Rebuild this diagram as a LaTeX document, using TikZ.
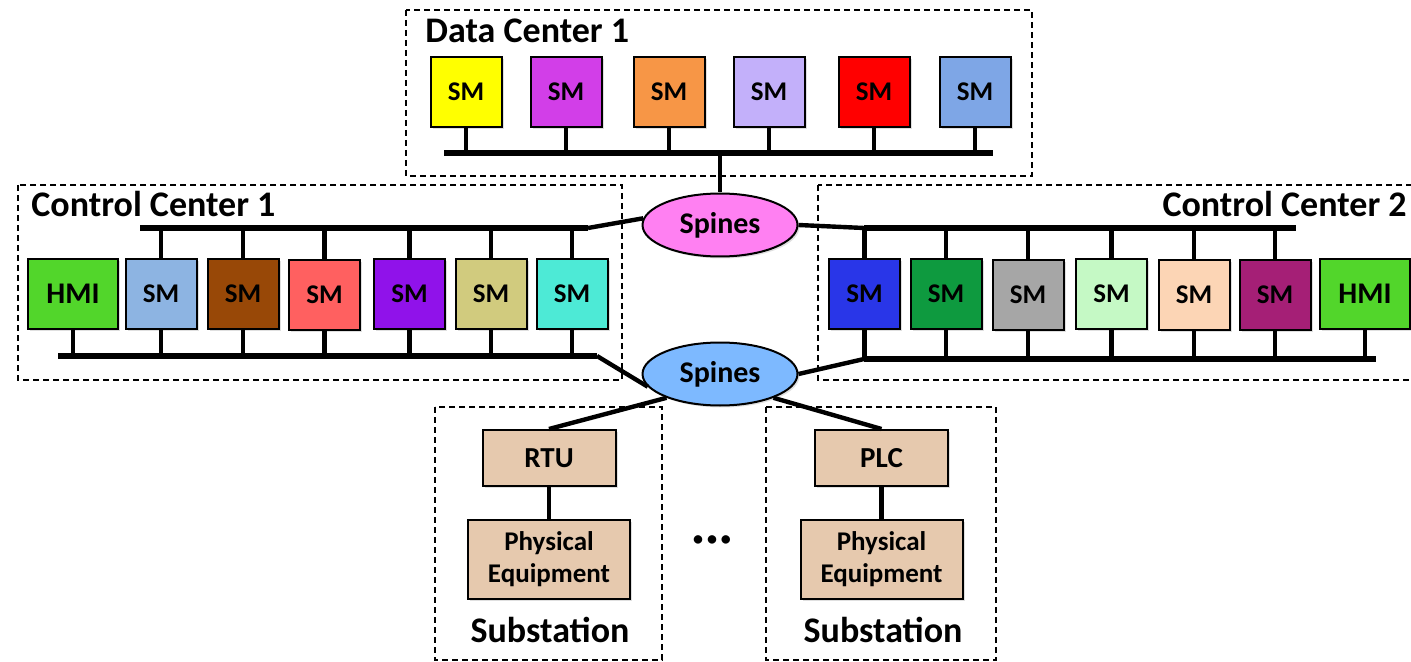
\documentclass[tikz,border=0pt]{standalone}
\usepackage{fontspec}
\setmainfont{Carlito}
\usetikzlibrary{shapes.geometric,shadows}
\definecolor{dcY}{HTML}{FFFF00}
\definecolor{dcM}{HTML}{D23EE8}
\definecolor{dcO}{HTML}{F79646}
\definecolor{dcL}{HTML}{C3B0FA}
\definecolor{dcR}{HTML}{FF0000}
\definecolor{dcB}{HTML}{7EA6E6}
\definecolor{hmiG}{HTML}{52D62B}
\definecolor{aA}{HTML}{8DB4E2}
\definecolor{aB}{HTML}{984807}
\definecolor{aC}{HTML}{FF6060}
\definecolor{aD}{HTML}{9012EA}
\definecolor{aE}{HTML}{D1CB7E}
\definecolor{aF}{HTML}{4DEAD6}
\definecolor{bA}{HTML}{2936E8}
\definecolor{bB}{HTML}{0E9A3F}
\definecolor{bC}{HTML}{A6A6A6}
\definecolor{bD}{HTML}{C5F9C5}
\definecolor{bE}{HTML}{FCD5B5}
\definecolor{bF}{HTML}{A51F76}
\definecolor{spinePink}{HTML}{FF80F2}
\definecolor{spineBlue}{HTML}{7DB9FF}
\definecolor{tanbox}{HTML}{E6C9AE}
\begin{document}
\begin{tikzpicture}[x=0.5pt,y=-0.5pt,
  grp/.style={draw, line width=0.8pt, dash pattern=on 3pt off 2pt},
  dev/.style={draw, line width=1pt, inner sep=0pt, minimum width=35.5pt, minimum height=35pt,
    font=\bfseries\fontsize{13.5}{15}\selectfont,
    drop shadow={opacity=0.25, shadow xshift=1pt, shadow yshift=-1pt}},
  hmi/.style={dev, minimum width=45pt, font=\bfseries\fontsize{15}{17}\selectfont},
  spine/.style={ellipse, draw, line width=1pt, minimum width=77.5pt, minimum height=31.5pt, inner sep=0pt,
    font=\bfseries\fontsize{15}{17}\selectfont,
    drop shadow={opacity=0.25, shadow xshift=1pt, shadow yshift=-1pt}},
  unit/.style={dev, fill=tanbox, minimum width=66.5pt, minimum height=28pt, font=\bfseries\fontsize{14.5}{17}\selectfont},
  equip/.style={dev, fill=tanbox, minimum width=81pt, minimum height=39.5pt, align=center,
    font=\bfseries\fontsize{13.5}{16}\selectfont},
  bus/.style={line width=2.8pt},
  link/.style={line width=2.2pt},
  title/.style={font=\bfseries\fontsize{18}{21}\selectfont, inner sep=0pt}
]
\useasboundingbox (0,0) rectangle (1411,662);
\clip (0,0) rectangle (1411,662);

% group frames
\draw[grp] (406,10) rectangle (1032,176);
\draw[grp] (18,185) rectangle (622,380);
\draw[grp] (818,185) rectangle (1420,380);
\draw[grp] (435,407) rectangle (662,660);
\draw[grp] (766,407) rectangle (996,660);

% titles
\node[title, anchor=base west] (tdc) at (425,43) {Data Center 1};
\node[title, anchor=base west] (tc1) at (31,217) {Control Center 1};
\node[title, anchor=base east] (tc2) at (1407,217) {Control Center 2};
\node[title, anchor=base] (ts1) at (550,642) {Substation};
\node[title, anchor=base] (ts2) at (883,642) {Substation};

% spines
\node[spine, fill=spinePink] (pink) at (720,225) {Spines};
\node[spine, fill=spineBlue] (blue) at (720,374) {Spines};

% Data center
\node[dev, fill=dcY] (d1) at (466,92) {SM};
\node[dev, fill=dcM] (d2) at (566,92) {SM};
\node[dev, fill=dcO] (d3) at (669,92) {SM};
\node[dev, fill=dcL] (d4) at (769,92) {SM};
\node[dev, fill=dcR] (d5) at (874,92) {SM};
\node[dev, fill=dcB] (d6) at (975,92) {SM};
\coordinate (dcL) at (444,153);
\coordinate (dcR) at (993,153);
\coordinate (dcJ) at (720,153);
\draw[bus] (dcL) -- (dcR);
\foreach \n in {d1,d2,d3,d4,d5,d6} \draw[link] (\n.south) -- (\n.south |- dcL);
\draw[link] (dcJ) -- (pink.north);

% Control center 1
\node[hmi, fill=hmiG] (h1) at (73,294) {HMI};
\node[dev, fill=aA] (a1) at (161,294) {SM};
\node[dev, fill=aB] (a2) at (243,294) {SM};
\node[dev, fill=aC] (a3) at (324.5,295) {SM};
\node[dev, fill=aD] (a4) at (409.5,294) {SM};
\node[dev, fill=aE] (a5) at (491,294) {SM};
\node[dev, fill=aF] (a6) at (572,294) {SM};
\coordinate (c1TL) at (140,228);
\coordinate (c1TR) at (588,228);
\coordinate (c1BL) at (58,356);
\coordinate (c1BR) at (597,356);
\draw[bus] (c1TL) -- (c1TR);
\draw[bus] (c1BL) -- (c1BR);
\foreach \n in {a1,a2,a3,a4,a5,a6} \draw[link] (\n.north) -- (\n.north |- c1TL);
\foreach \n in {h1,a1,a2,a3,a4,a5,a6} \draw[link] (\n.south) -- (\n.south |- c1BL);
\draw[link] (c1TR) -- (pink.175);
\draw[link] (c1BR) -- (blue.190);

% Control center 2
\node[dev, fill=bA] (b1) at (864.5,294) {SM};
\node[dev, fill=bB] (b2) at (946,294) {SM};
\node[dev, fill=bC] (b3) at (1028,295) {SM};
\node[dev, fill=bD] (b4) at (1111.5,294) {SM};
\node[dev, fill=bE] (b5) at (1194,295) {SM};
\node[dev, fill=bF] (b6) at (1275,295) {SM};
\node[hmi, fill=hmiG] (h2) at (1365,294) {HMI};
\coordinate (c2TL) at (864,228);
\coordinate (c2TR) at (1296,228);
\coordinate (c2BL) at (864,359);
\coordinate (c2BR) at (1376,359);
\draw[bus] (c2TL) -- (c2TR);
\draw[bus] (c2BL) -- (c2BR);
\foreach \n in {b1,b2,b3,b4,b5,b6} \draw[link] (\n.north) -- (\n.north |- c2TL);
\foreach \n in {b1,b2,b3,b4,b5,b6,h2} \draw[link] (\n.south) -- (\n.south |- c2BL);
\draw[link] (pink.east) -- (c2TL);
\draw[link] (blue.east) -- (c2BL);

% Substations
\node[unit] (rtu) at (549,458) {RTU};
\node[equip] (pe1) at (549,559.5) {Physical\\Equipment};
\node[unit] (plc) at (881.5,458) {PLC};
\node[equip] (pe2) at (881.5,559.5) {Physical\\Equipment};
\draw[link] (blue.204) -- (rtu.north);
\draw[link] (blue.336) -- (plc.north);
\draw[link] (rtu.south) -- (pe1.north);
\draw[link] (plc.south) -- (pe2.north);

\node[font=\bfseries\fontsize{10}{10}\selectfont, inner sep=0pt] (dots) at (712,541) {\textbullet\kern2pt\textbullet\kern2pt\textbullet};
\end{tikzpicture}
\end{document}
